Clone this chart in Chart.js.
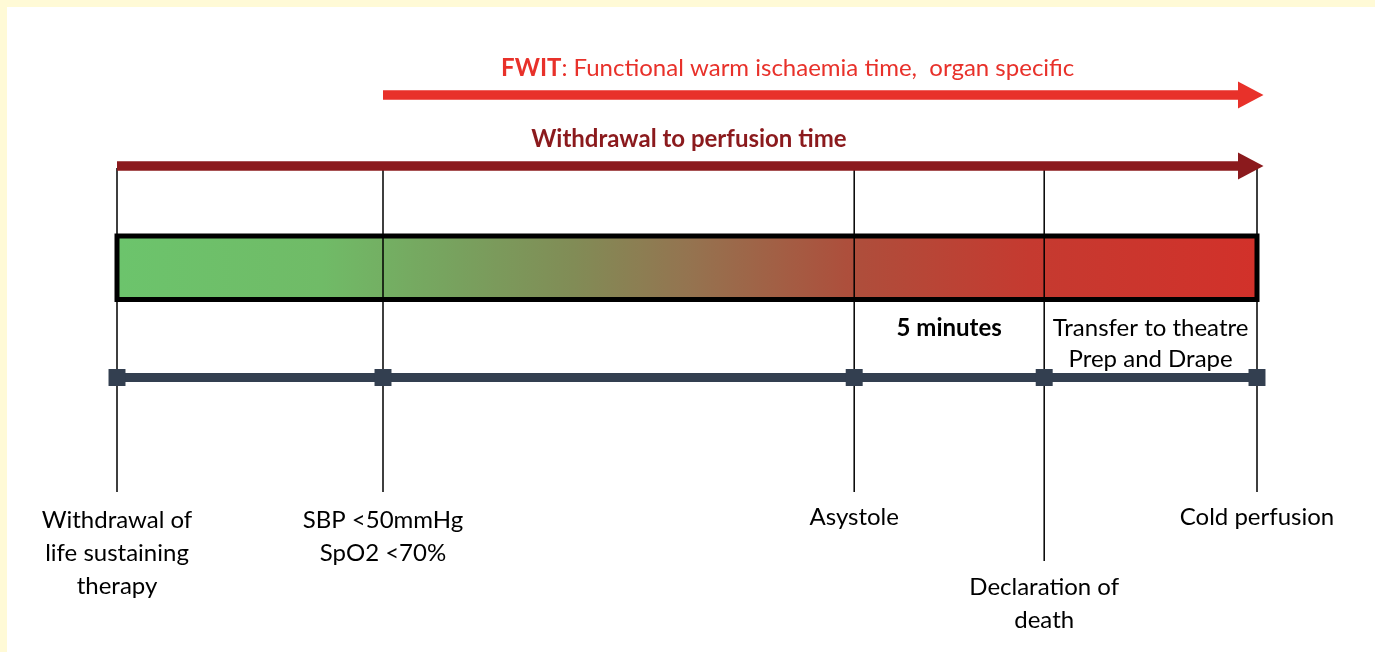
<!DOCTYPE html>
<html>
<head>
<meta charset="utf-8">
<title>DCD timeline</title>
<script src="https://cdn.jsdelivr.net/npm/chart.js@4/dist/chart.umd.min.js"></script>
<style>
    html, body { margin: 0; padding: 0; background: #fffad6; }
    body { width: 1375px; height: 652px; overflow: hidden; position: relative; }
    #timeline { position: absolute; left: 7px; top: 7px; background: #ffffff; }
</style>
</head>
<body>
<canvas id="timeline" width="1368" height="645"></canvas>
<script>
    "use strict";

    // Events (minutes after withdrawal of therapy)
    var eventTimes = [0, 7, 19.4, 24.4, 30];
    var eventLabels = [
        ["Withdrawal of", "life sustaining", "therapy"],
        ["SBP <50mmHg", "SpO2 <70%"],
        ["Asystole"],
        ["Declaration of", "death"],
        ["Cold perfusion"]
    ];

    // Intervals between events (index of start and end event)
    var intervalStarts = [2, 3];
    var intervalEnds = [3, 4];
    var intervalLabels = [["5 minutes"], ["Transfer to theatre", "Prep and Drape"]];
    var intervalBold = [true, false];

    // Arrows (minutes)
    var arrowStarts = [7, 0];
    var arrowEnds = [29.5, 29.5];
    var arrowBold = ["FWIT", "Withdrawal to perfusion time"];
    var arrowRest = [": Functional warm ischaemia time,  organ specific", ""];
    var arrowTitleCentres = [17.65, 15.05];

    // ---- layout (vertical positions in page pixels) and styles ----
    var FONT = "Lato";
    var SIZE = "24px ";
    var arrowLanes = [95, 166];
    var arrowColors = ["#e8312a", "#8b1a1d"];
    var arrowTitleBase = [76, 147];
    var barTop = 236, barBottom = 299.5;
    var tickTop = 168, tickBottom = [492, 492, 492, 561, 492];
    var lineY = 377.5;
    var labelBase = [[528, 561, 594], [528, 561], [525], [595, 628], [525]];
    var intervalBase = [[336], [336, 367]];
    var slate = "#333f50";

    function barGradient(context) {
        var area = context.chart.chartArea;
        if (!area) return "#999";
        var g = context.chart.ctx.createLinearGradient(area.left, 0, area.right, 0);
        g.addColorStop(0.00, "#6cc46c");
        g.addColorStop(0.18, "#70bb67");
        g.addColorStop(0.30, "#78a15e");
        g.addColorStop(0.40, "#818c56");
        g.addColorStop(0.50, "#947450");
        g.addColorStop(0.64, "#ad4f3c");
        g.addColorStop(0.80, "#c53a30");
        g.addColorStop(1.00, "#d2312a");
        return g;
    }

    var datasets = [];

    // Arrow shafts
    arrowStarts.forEach(function (s, i) {
        datasets.push({
            arrow: true,
            data: [{x: s, y: arrowLanes[i]}, {x: arrowEnds[i], y: arrowLanes[i]}],
            borderColor: arrowColors[i],
            borderWidth: 9.5,
            borderCapStyle: "butt",
            showLine: true,
            pointRadius: 0,
            clip: false
        });
    });

    // Timeline with square markers
    datasets.push({
        data: eventTimes.map(function (t) { return {x: t, y: lineY}; }),
        borderColor: slate,
        backgroundColor: slate,
        borderWidth: 9,
        showLine: true,
        pointStyle: "rect",
        pointRadius: 12,
        pointBorderWidth: 0,
        pointBackgroundColor: slate,
        clip: false
    });

    // Vertical event lines
    eventTimes.forEach(function (t, i) {
        datasets.push({
            data: [{x: t, y: tickTop}, {x: t, y: tickBottom[i]}],
            borderColor: "#000000",
            borderWidth: 1.5,
            showLine: true,
            pointRadius: 0,
            clip: false
        });
    });

    // Gradient bar
    var first = eventTimes[0], last = eventTimes[eventTimes.length - 1];
    var mid = (first + last) / 2;
    datasets.push({
        data: [
            {x: mid, y: barTop}, {x: last, y: barTop}, {x: last, y: barBottom},
            {x: first, y: barBottom}, {x: first, y: barTop}, {x: mid, y: barTop}
        ],
        borderColor: "#000000",
        borderWidth: 5,
        borderJoinStyle: "miter",
        backgroundColor: barGradient,
        fill: "shape",
        showLine: true,
        pointRadius: 0,
        clip: false
    });

    // Arrow heads and text
    var annotations = {
        id: "annotations",
        afterDatasetsDraw: function (chart) {
            var ctx = chart.ctx;
            var xs = chart.scales.x, ys = chart.scales.y;
            ctx.save();

            chart.data.datasets.forEach(function (ds, i) {
                if (!ds.arrow) return;
                var pts = chart.getDatasetMeta(i).data;
                var p = pts[pts.length - 1];
                ctx.fillStyle = ds.borderColor;
                ctx.beginPath();
                ctx.moveTo(p.x, p.y - 13.5);
                ctx.lineTo(p.x + 25.5, p.y);
                ctx.lineTo(p.x, p.y + 13.5);
                ctx.closePath();
                ctx.fill();
            });

            ctx.textBaseline = "alphabetic";

            // Arrow titles
            arrowBold.forEach(function (b, i) {
                ctx.font = "bold " + SIZE + FONT;
                var wb = ctx.measureText(b).width;
                ctx.font = SIZE + FONT;
                var wr = ctx.measureText(arrowRest[i]).width;
                var x0 = xs.getPixelForValue(arrowTitleCentres[i]) - (wb + wr) / 2;
                var y = ys.getPixelForValue(arrowTitleBase[i]);
                ctx.fillStyle = arrowColors[i];
                ctx.textAlign = "left";
                ctx.font = "bold " + SIZE + FONT;
                ctx.fillText(b, x0, y);
                ctx.font = SIZE + FONT;
                ctx.fillText(arrowRest[i], x0 + wb, y);
            });

            // Interval labels
            ctx.fillStyle = "#000000";
            ctx.textAlign = "center";
            intervalLabels.forEach(function (lines, i) {
                var x = xs.getPixelForValue((eventTimes[intervalStarts[i]] + eventTimes[intervalEnds[i]]) / 2);
                ctx.font = (intervalBold[i] ? "bold " : "") + SIZE + FONT;
                lines.forEach(function (txt, j) {
                    ctx.fillText(txt, x, ys.getPixelForValue(intervalBase[i][j]));
                });
            });

            // Event labels
            ctx.font = SIZE + FONT;
            eventLabels.forEach(function (lines, i) {
                var x = xs.getPixelForValue(eventTimes[i]);
                lines.forEach(function (txt, j) {
                    ctx.fillText(txt, x, ys.getPixelForValue(labelBase[i][j]));
                });
            });

            ctx.restore();
        }
    };

    function draw() {
        var ctx = document.getElementById("timeline").getContext("2d");
        new Chart(ctx, {
            type: "scatter",
            data: {datasets: datasets},
            options: {
                responsive: false,
                animation: false,
                events: [],
                layout: {autoPadding: false, padding: {left: 110, right: 118, top: 0, bottom: 0}},
                plugins: {legend: {display: false}, tooltip: {enabled: false}},
                scales: {
                    x: {type: "linear", min: first, max: last, display: false},
                    y: {type: "linear", min: 7, max: 652, reverse: true, display: false}
                }
            },
            plugins: [annotations]
        });
    }

    if (document.fonts && document.fonts.load) {
        Promise.all([
            document.fonts.load(SIZE + FONT),
            document.fonts.load("bold " + SIZE + FONT)
        ]).then(draw, draw);
    } else {
        draw();
    }
</script>
</body>
</html>
